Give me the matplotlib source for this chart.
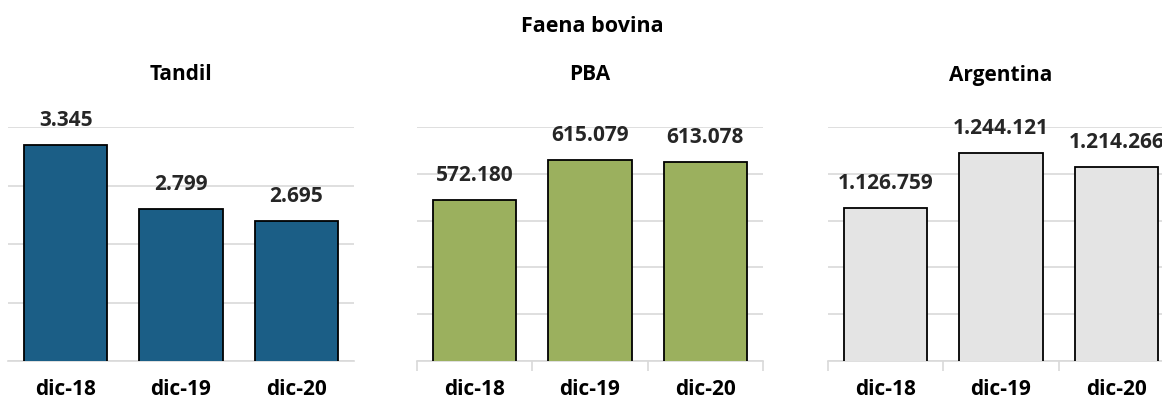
import matplotlib
matplotlib.use('Agg')
import matplotlib.pyplot as plt
import numpy as np

# datos
meses = ['dic-18', 'dic-19', 'dic-20']
regiones = ['Tandil', 'PBA', 'Argentina']
tandil = [3345, 2799, 2695]
pba = [572180, 615079, 613078]
argentina = [1126759, 1244121, 1214266]

series = [tandil, pba, argentina]
colores = ['#1B5E86', '#9BB05E', '#E4E4E4']
limites = [(1500, 3500, 500), (400000, 650000, 50000), (800000, 1300000, 100000)]
izq_px = [8, 417, 828]  # borde izquierdo de cada panel en px

plt.rcParams['font.family'] = ['Open Sans', 'DejaVu Sans']
plt.rcParams['font.weight'] = 'bold'

W, H = 1162, 403
fig = plt.figure(figsize=(W / 100, H / 100), dpi=100)

fig.text(592 / W, 1 - 27 / H, 'Faena bovina', ha='center', va='center',
         fontsize=15.5, fontweight='bold')

def fmt(v):
    return f'{v:,}'.replace(',', '.')

for i in range(3):
    x0 = izq_px[i]
    ax = fig.add_axes([x0 / W, (H - 361) / H, 346 / W, 234 / H])
    x = np.arange(len(meses))
    vals = series[i]
    ax.bar(x, vals, width=0.72, color=colores[i], edgecolor='black',
           linewidth=1.3, zorder=3)
    lo, hi, paso = limites[i]
    ax.set_ylim(lo, hi)
    ax.set_xlim(-0.5, 2.5)
    ax.set_yticks(np.arange(lo, hi + 1, paso))
    ax.yaxis.grid(True, color='#D9D9D9', linewidth=1.2, zorder=0)
    ax.tick_params(axis='y', left=False, labelleft=False)
    ax.set_xticks(x)
    ax.set_xticklabels(meses, fontsize=15, fontweight='bold')
    ax.tick_params(axis='x', length=0, pad=13)
    if i > 0:
        ax.set_xticks([-0.5, 0.5, 1.5, 2.5], minor=True)
        ax.tick_params(axis='x', which='minor', length=7, color='#D9D9D9', width=1.2)
    for s in ['top', 'left', 'right']:
        ax.spines[s].set_visible(False)
    ax.spines['bottom'].set_color('#D9D9D9')
    ax.spines['bottom'].set_linewidth(1.2)
    for xi, v in zip(x, vals):
        ax.annotate(fmt(v), (xi, v), xytext=(0, 10), textcoords='offset points',
                    ha='center', va='bottom', fontsize=15, fontweight='bold',
                    color='#262626', annotation_clip=False)
    fig.text((x0 + 173) / W, 1 - 75 / H, regiones[i], ha='center', va='center',
             fontsize=15, fontweight='bold')

fig.savefig('out.png', dpi=100)
